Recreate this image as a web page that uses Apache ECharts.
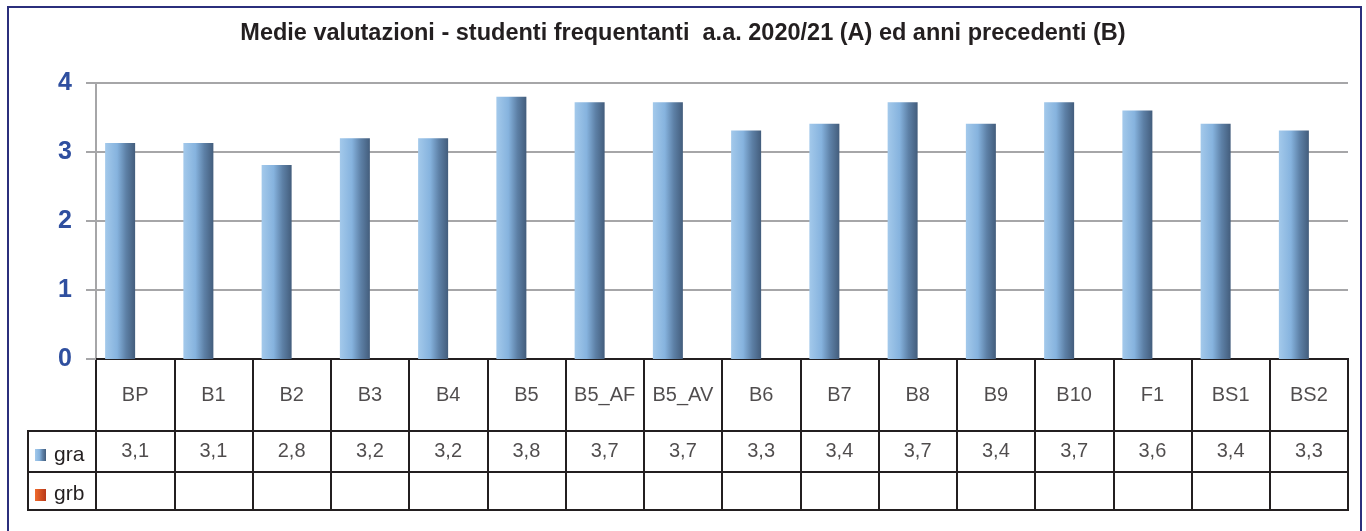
<!DOCTYPE html>
<html>
<head>
    <meta charset="utf-8">
    <title>Medie valutazioni</title>
    <script src="https://cdn.jsdelivr.net/npm/echarts@6/dist/echarts.min.js"></script>
    <style>
        html, body { margin: 0; padding: 0; background: #fff; }
        #chart { width: 1366px; height: 531px; }
    </style>
</head>
<body>
<div id="chart"></div>
<script type="text/javascript">

    // 数据
    var categories = ['BP', 'B1', 'B2', 'B3', 'B4', 'B5', 'B5_AF', 'B5_AV', 'B6', 'B7', 'B8', 'B9', 'B10', 'F1', 'BS1', 'BS2'];
    var graValues = [3.13, 3.13, 2.81, 3.2, 3.2, 3.8, 3.72, 3.72, 3.31, 3.41, 3.72, 3.41, 3.72, 3.6, 3.41, 3.31];
    var grbValues = [];   // serie B vuota
    var yTicks = [0, 1, 2, 3, 4];

    var FONT = '"Liberation Sans", Arial, sans-serif';
    var LINE = '#231f20';

    var graColor = new echarts.graphic.LinearGradient(0, 0, 1, 0, [
        {offset: 0, color: '#a3c9eb'},
        {offset: 0.4, color: '#86b3de'},
        {offset: 0.7, color: '#5d80a6'},
        {offset: 1, color: '#435d7c'}
    ]);
    var grbColor = new echarts.graphic.LinearGradient(0, 0, 1, 0, [
        {offset: 0, color: '#ef6a2c'},
        {offset: 1, color: '#b8391a'}
    ]);

    function fmt(v) {
        return v.toFixed(1).replace('.', ',');
    }

    // righe della tabella: una griglia per riga
    var rowTops = [359, 431, 472];
    var rowHeights = [72, 41, 38];

    var grids = [{left: 96, right: 18, top: 83, height: 276}];
    var xAxes = [{
        type: 'category', gridIndex: 0, data: categories,
        axisLine: {show: true, lineStyle: {color: LINE, width: 2}},
        axisTick: {show: false}, axisLabel: {show: false}
    }];
    var yAxes = [{
        type: 'value', gridIndex: 0, min: yTicks[0], max: yTicks[yTicks.length - 1], interval: 1,
        axisLine: {show: true, lineStyle: {color: '#a6a6a8', width: 2}},
        axisTick: {show: true, length: 10, lineStyle: {color: '#a6a6a8', width: 2}},
        axisLabel: {color: '#2f4f9f', fontSize: 25, fontWeight: 'bold', fontFamily: FONT, margin: 24},
        splitLine: {lineStyle: {color: '#a6a6a8', width: 2}}
    }];
    for (var r = 0; r < 3; r++) {
        grids.push({
            left: 96, right: 18, top: rowTops[r], height: rowHeights[r],
            show: true, borderColor: LINE, borderWidth: 2, backgroundColor: 'transparent'
        });
        xAxes.push({
            type: 'category', gridIndex: r + 1, data: categories,
            axisLine: {show: false}, axisTick: {show: false}, axisLabel: {show: false},
            splitLine: {show: true, interval: 0, lineStyle: {color: LINE, width: 2}}
        });
        yAxes.push({type: 'value', gridIndex: r + 1, min: -1, max: 1, show: false});
    }

    // testo delle celle (serie scatter senza simbolo)
    function textSeries(idx, texts) {
        return {
            type: 'scatter', xAxisIndex: idx, yAxisIndex: idx, symbolSize: 0, silent: true,
            data: categories.map(function (c, i) {
                return {value: [c, 0], text: texts[i] == null ? '' : texts[i]};
            }),
            label: {
                show: true, position: 'inside', color: LINE, fontSize: 20, fontFamily: FONT,
                formatter: function (p) { return p.data.text; }
            }
        };
    }

    var chart = echarts.init(document.getElementById('chart'));
    var option = {
        animation: false,
        title: {
            text: 'Medie valutazioni - studenti frequentanti  a.a. 2020/21 (A) ed anni precedenti (B)',
            left: 'center', top: 17,
            textStyle: {color: LINE, fontSize: 23.5, fontWeight: 'bold', fontFamily: FONT}
        },
        grid: grids,
        xAxis: xAxes,
        yAxis: yAxes,
        series: [
            {name: 'gra', type: 'bar', data: graValues, barWidth: 30, barGap: '0%', itemStyle: {color: graColor}},
            {name: 'grb', type: 'bar', data: grbValues, barWidth: 30, itemStyle: {color: grbColor}},
            textSeries(1, categories),
            textSeries(2, graValues.map(fmt)),
            textSeries(3, grbValues.map(fmt))
        ],
        graphic: [
            // cornice esterna
            {type: 'rect', shape: {x: 8, y: 7, width: 1353, height: 540}, style: {fill: 'none', stroke: '#2b2f7c', lineWidth: 2}},
            // colonna legenda della tabella
            {type: 'rect', shape: {x: 28, y: 431, width: 68, height: 41}, style: {fill: 'none', stroke: LINE, lineWidth: 2}},
            {type: 'rect', shape: {x: 28, y: 472, width: 68, height: 38}, style: {fill: 'none', stroke: LINE, lineWidth: 2}},
            {type: 'rect', shape: {x: 35, y: 449, width: 11, height: 12}, style: {fill: graColor}},
            {type: 'rect', shape: {x: 35, y: 489, width: 11, height: 12}, style: {fill: grbColor}},
            {type: 'text', x: 54, y: 455, style: {text: 'gra', fill: LINE, font: '21px ' + FONT, verticalAlign: 'middle'}},
            {type: 'text', x: 54, y: 494, style: {text: 'grb', fill: LINE, font: '21px ' + FONT, verticalAlign: 'middle'}}
        ]
    };
    chart.setOption(option);

</script>
</body>
</html>
